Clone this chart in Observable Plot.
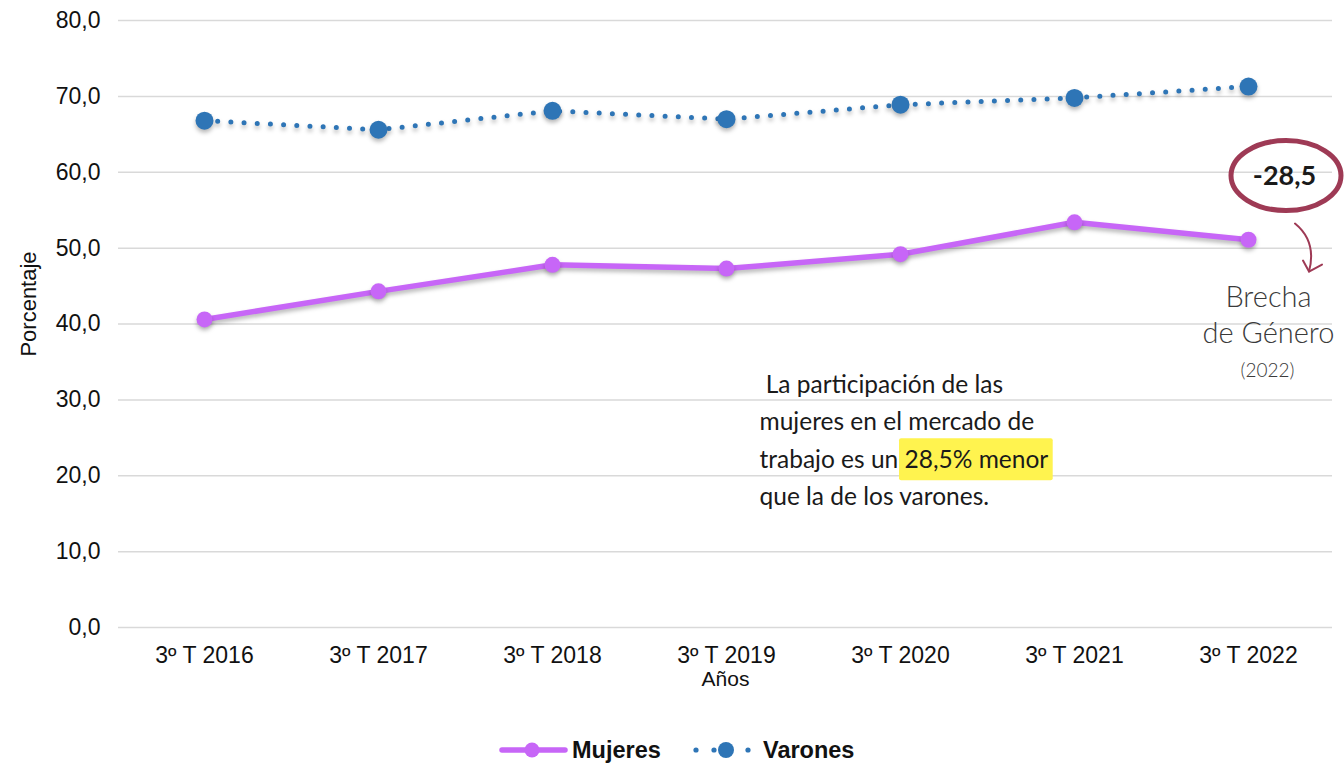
<!DOCTYPE html>
<html lang="es">
<head>
<meta charset="utf-8">
<script src="https://cdn.jsdelivr.net/npm/d3@7"></script>
<script src="https://cdn.jsdelivr.net/npm/@observablehq/plot@0.6"></script>
<style>
html,body{margin:0;padding:0;background:#fff;}
#chart svg{display:block;}
#legend{height:66px;}
#legend svg{display:block;}
</style>
</head>
<body>
<div id="chart"></div>
<div id="legend"></div>
<script>
const years = ["3º T 2016","3º T 2017","3º T 2018","3º T 2019","3º T 2020","3º T 2021","3º T 2022"];
const mujeres = [40.6, 44.3, 47.8, 47.3, 49.2, 53.4, 51.1];
const varones = [66.8, 65.6, 68.1, 67.0, 68.9, 69.8, 71.3];
const yTicks = [0, 10, 20, 30, 40, 50, 60, 70, 80];
const seriesNames = ["Mujeres", "Varones"];
const xLabel = "Años";
const yLabel = "Porcentaje";
const gapLabel = "-28,5";
const gapNote = ["Brecha", "de Género", "(2022)"];
const noteLines = ["\u00a0La participación de las", "mujeres en el mercado de", "trabajo es un 28,5% menor", "que la de los varones."];
const noteHighlight = "28,5% menor";

const colM = "#c766f7", colV = "#2e75b6", colGap = "#9e3a55";
const axisFont = '"Liberation Sans", Arial, sans-serif';
const handFont = 'Lato, "Noto Sans", sans-serif';

const rowsM = years.map((y, i) => ({year: y, serie: seriesNames[0], value: mujeres[i]}));
const rowsV = years.map((y, i) => ({year: y, serie: seriesNames[1], value: varones[i]}));
const fmt = d => d.toFixed(1).replace(".", ",");

function textWidth(str, font) {
  const c = textWidth.c || (textWidth.c = document.createElement("canvas").getContext("2d"));
  c.font = font;
  return c.measureText(str).width;
}

const lastYear = years[years.length - 1];
const noteYear = years[3];
const gapY = 59.5;
const noteY = i => 32 - 4.95 * i;
const noteFontSize = 24.5;

const gapMark = (index, scales) => {
  const cx = scales.x(lastYear) + 38, cy = scales.y(gapY);
  const g = d3.create("svg:g");
  g.append("ellipse").attr("cx", cx).attr("cy", cy).attr("rx", 55).attr("ry", 35)
    .attr("fill", "none").attr("stroke", colGap).attr("stroke-width", 5);
  g.append("path").attr("d", `M${cx + 9},${cy + 48} Q${cx + 31},${cy + 66} ${cx + 23},${cy + 96}`)
    .attr("fill", "none").attr("stroke", colGap).attr("stroke-width", 2).attr("stroke-linecap", "round");
  g.append("path").attr("d", `M${cx + 17},${cy + 85} L${cx + 23},${cy + 96} L${cx + 36},${cy + 89}`)
    .attr("fill", "none").attr("stroke", colGap).attr("stroke-width", 2).attr("stroke-linecap", "round").attr("stroke-linejoin", "round");
  return g.node();
};

const highlightMark = (index, scales) => {
  const font = `${noteFontSize}px ${handFont}`;
  const x0 = scales.x(noteYear) + 33;
  const line = noteLines[2];
  const pre = line.slice(0, line.indexOf(noteHighlight));
  const w0 = textWidth(pre, font), w1 = textWidth(noteHighlight, font);
  const cy = scales.y(noteY(2));
  const g = d3.create("svg:g");
  g.append("rect").attr("x", x0 + w0 - 5).attr("y", cy - 21).attr("width", w1 + 10).attr("height", 42)
    .attr("fill", "#fff34f").attr("rx", 2);
  return g.node();
};

const chart = Plot.plot({
  width: 1344,
  height: 700,
  marginTop: 20,
  marginBottom: 73,
  marginLeft: 118,
  marginRight: 12,
  style: {background: "#fff", fontFamily: axisFont, overflow: "visible"},
  x: {type: "point", domain: years, range: [203, 1248], padding: 0, axis: null},
  y: {domain: [0, 80], axis: null},
  marks: [
    Plot.gridY(yTicks, {stroke: "#d9d9d9", strokeOpacity: 1, strokeWidth: 1.5}),
    Plot.axisY(yTicks, {tickSize: 0, tickPadding: 18, tickFormat: fmt, fontSize: 23, fill: "#111", label: null}),
    Plot.axisX(years, {tickSize: 0, tickPadding: 19, fontSize: 23, fill: "#111", label: null}),
    Plot.text([xLabel], {frameAnchor: "bottom", textAnchor: "middle", lineAnchor: "middle", dy: 52, fontSize: 21, fill: "#111", text: d => d}),
    Plot.text([yLabel], {frameAnchor: "left", textAnchor: "middle", lineAnchor: "middle", rotate: -90, dx: -90, dy: -20, fontSize: 22, fill: "#111", text: d => d}),
    highlightMark,
    Plot.text(noteLines, {x: () => noteYear, y: (d, i) => noteY(i), dx: 33, textAnchor: "start",
      fontSize: noteFontSize, fontFamily: handFont, fill: "#1a1a1a", text: d => d}),
    Plot.line(rowsM, {x: "year", y: "value", stroke: colM, strokeWidth: 5.5}),
    Plot.line(rowsV, {x: "year", y: "value", stroke: colV, strokeWidth: 5, strokeDasharray: "0 13.2", strokeLinecap: "round"}),
    Plot.dot(rowsM, {x: "year", y: "value", r: 8, fill: colM}),
    Plot.dot(rowsV, {x: "year", y: "value", r: 9, fill: colV}),
    gapMark,
    Plot.text([gapLabel], {x: () => lastYear, y: () => gapY, dx: 36, fontSize: 27, fontWeight: "bold",
      fontFamily: handFont, fill: "#1a1a1a", text: d => d}),
    Plot.text(gapNote.slice(0, 2), {x: () => lastYear, y: (d, i) => [43.5, 38.7][i], dx: 20, fontSize: 29,
      fontWeight: 300, fontFamily: handFont, fill: "#3a3a3a", text: d => d}),
    Plot.text(gapNote.slice(2), {x: () => lastYear, y: () => 33.8, dx: 19, fontSize: 19,
      fontWeight: 300, fontFamily: handFont, fill: "#3a3a3a", text: d => d})
  ]
});

d3.select(chart).selectAll('g[aria-label="line"], g[aria-label="dot"]')
  .style("filter", "drop-shadow(0px 3px 2px rgba(0,0,0,0.28))");

document.getElementById("chart").appendChild(chart);

// Legend
const lg = d3.select("#legend").append("svg").attr("width", 1344).attr("height", 66)
  .style("font-family", axisFont);
const ly = 50;
const m = lg.append("g");
m.append("line").attr("x1", 502).attr("x2", 565).attr("y1", ly).attr("y2", ly)
  .attr("stroke", colM).attr("stroke-width", 5.5).attr("stroke-linecap", "round");
m.append("circle").attr("cx", 532).attr("cy", ly).attr("r", 7.5).attr("fill", colM);
m.append("text").attr("x", 572).attr("y", ly + 8).attr("font-size", 23.5).attr("font-weight", "bold")
  .attr("fill", "#111").text(seriesNames[0]);
const v = lg.append("g");
[696, 714, 748].forEach(x => v.append("circle").attr("cx", x).attr("cy", ly).attr("r", 2.6).attr("fill", colV));
v.append("circle").attr("cx", 726).attr("cy", ly).attr("r", 8).attr("fill", colV);
v.append("text").attr("x", 763).attr("y", ly + 8).attr("font-size", 23.5).attr("font-weight", "bold")
  .attr("fill", "#111").text(seriesNames[1]);
</script>
</body>
</html>
